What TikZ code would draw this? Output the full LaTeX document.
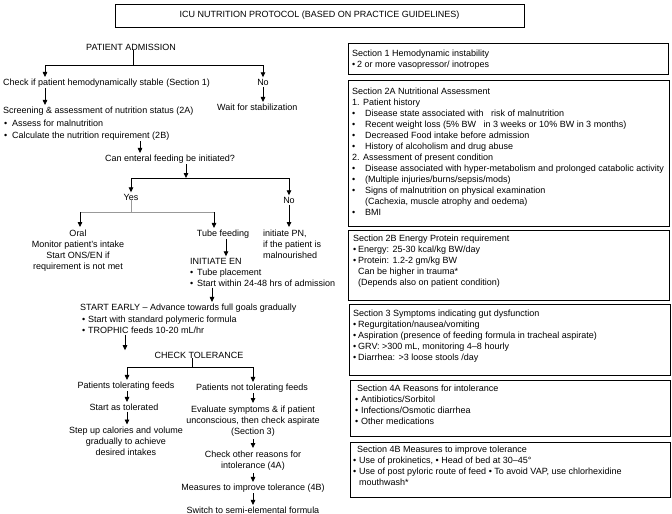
\documentclass[tikz,border=0pt]{standalone}
\usepackage{fontspec}
\setmainfont{Liberation Sans}
\usetikzlibrary{arrows.meta}
\newcommand{\mybul}[1]{\makebox[#1][l]{\textbullet}}
\tikzset{
  txt/.style={inner sep=0pt, font=\fontsize{9}{11}\selectfont},
  mtxt/.style={txt, align=center, anchor=north},
  rt/.style={txt, align=left, anchor=north west},
  arr/.style={-{Triangle[length=5pt,width=4.5pt]}, line width=0.8pt, shorten >=1.5pt, shorten <=1.2pt},
  ln/.style={line width=0.8pt},
  gry/.style={line width=0.9pt, draw=black!40},
  sbox/.style={draw, line width=1pt, inner sep=0pt, anchor=north west},
}
\begin{document}
\begin{tikzpicture}[x=1pt,y=-1pt]
\useasboundingbox (0,0) rectangle (672,514);
% title
\node[draw, line width=1pt, inner sep=0pt, minimum width=409pt, minimum height=23pt, font=\fontsize{9}{11}\selectfont] (title) at (319.5,15.5) {ICU NUTRITION PROTOCOL (BASED ON PRACTICE GUIDELINES)};

% ---------- left flowchart ----------
\node[txt, anchor=base] (adm) at (131,50.2) {PATIENT ADMISSION};
\coordinate (jA) at (133,65);
\coordinate (jAl) at (45,65);
\coordinate (jAr) at (263,65);
\node[txt, anchor=base west] (chk) at (3,85.2) {Check if patient hemodynamically stable (Section 1)};
\node[txt, anchor=base] (no1) at (263,85.2) {No};
\node[txt, anchor=base west] (scr) at (3,113.2) {Screening \& assessment of nutrition status (2A)};
\node[txt, anchor=base west] (wait) at (217,110.2) {Wait for stabilization};
\node[txt, anchor=base west] (b1) at (4,126.2) {\mybul{8pt}Assess for malnutrition};
\node[txt, anchor=base west] (b2) at (4,138.2) {\mybul{8pt}Calculate the nutrition requirement (2B)};
\node[txt, anchor=base] (can) at (170,161.2) {Can enteral feeding be initiated?};
\coordinate (xB) at (140,0);
\coordinate (xC) at (186,0);
\coordinate (jB) at (186,178);
\coordinate (jBl) at (131,178);
\coordinate (jBr) at (289,178);
\node[txt, anchor=base] (yes) at (131,200.2) {Yes};
\node[txt, anchor=base] (no2) at (289,203.2) {No};
\coordinate (jY) at (131,212);
\coordinate (jYl) at (80,212);
\coordinate (jYr) at (214,212);
\node[mtxt] (oral) at (78,228.5) {\strut Oral\\\strut Monitor patient's intake\\\strut Start ONS/EN if\\\strut requirement is not met};
\node[txt, anchor=base] (tube) at (223,236.2) {Tube feeding};
\node[rt] (pn) at (263,228.5) {\strut initiate PN,\\\strut if the patient is\\\strut malnourished};
\coordinate (xT) at (226,0);
\node[txt, anchor=base west] (inen) at (190,264.2) {INITIATE EN};
\node[txt, anchor=base west] (en1) at (190,275.2) {\mybul{7pt}Tube placement};
\node[txt, anchor=base west] (en2) at (190,286.2) {\mybul{7pt}Start within 24-48 hrs of admission};
\coordinate (xE) at (212,0);
\node[txt, anchor=base west] (early) at (80,310.2) {START EARLY -- Advance towards full goals gradually};
\node[txt, anchor=base west] (e1) at (82,322.2) {\mybul{6pt}Start with standard polymeric formula};
\node[txt, anchor=base west] (e2) at (82,333.2) {\mybul{6pt}TROPHIC feeds 10-20 mL/hr};
\coordinate (xF) at (125,0);
\node[txt, anchor=base] (ctol) at (199,358.2) {CHECK TOLERANCE};
\coordinate (jT) at (192,367);
\coordinate (jTl) at (127,367);
\coordinate (jTr) at (253,367);
\node[txt, anchor=base] (tol) at (126,388.2) {Patients tolerating feeds};
\node[txt, anchor=base] (ntol) at (252,390.2) {Patients not tolerating feeds};
\node[txt, anchor=base] (sat) at (124,410.2) {Start as tolerated};
\node[mtxt] (step) at (126,426) {\strut Step up calories and volume\\\strut gradually to achieve\\\strut desired intakes};
\node[mtxt] (eval) at (253,404.5) {\strut Evaluate symptoms \& if patient\\\strut unconscious, then check aspirate\\\strut (Section 3)};
\node[mtxt] (oth) at (253,449.5) {\strut Check other reasons for\\\strut intolerance (4A)};
\node[txt, anchor=base] (meas) at (253,490.2) {Measures to improve tolerance (4B)};
\node[txt, anchor=base] (sw) at (253,513.2) {Switch to semi-elemental formula};

% connectors
\draw[ln] (adm.south -| jA) -- (jA);
\draw[ln] (jAl) -- (jAr);
\draw[arr, shorten <=0pt] (jAl) -- (chk.north -| jAl);
\draw[arr, shorten <=0pt] (jAr) -- (no1.north);
\draw[arr] (chk.south -| jAl) -- (scr.north -| jAl);
\draw[arr] (no1.south) -- (wait.north -| jAr);
\draw[arr] (b2.south -| xB) -- (can.north -| xB);
\draw[arr, shorten >=0pt] (can.south -| xC) -- (jB);
\draw[ln] (jBl) -- (jBr);
\draw[arr, shorten <=0pt] (jBl) -- (yes.north);
\draw[arr, shorten <=0pt] (jBr) -- (no2.north);
\draw[gry] (yes.south) -- (jY);
\draw[gry] (jYl) -- (jYr);
\draw[arr, shorten <=0pt] (jYl) -- (oral.north -| jYl);
\draw[arr, shorten <=0pt] (jYr) -- (tube.north -| jYr);
\draw[arr] (no2.south) -- (pn.north -| no2);
\draw[arr] (tube.south -| xT) -- (inen.north -| xT);
\draw[arr] (en2.south -| xE) -- (early.north -| xE);
\draw[arr] (e2.south -| xF) -- (ctol.north -| xF);
\draw[ln] (ctol.south -| jT) -- (jT);
\draw[ln] (jTl) -- (jTr);
\draw[arr, shorten <=0pt] (jTl) -- (tol.north -| jTl);
\draw[arr, shorten <=0pt] (jTr) -- (ntol.north -| jTr);
\draw[arr] (tol.south -| jTl) -- (sat.north -| jTl);
\draw[arr] (sat.south -| jTl) -- (step.north -| jTl);
\draw[arr] (ntol.south -| jTr) -- (eval.north -| jTr);
\draw[arr] (eval.south -| jTr) -- (oth.north -| jTr);
\draw[arr] (oth.south -| jTr) -- (meas.north -| jTr);
\draw[arr] (meas.south -| jTr) -- (sw.north -| jTr);

% ---------- right column ----------
\node[sbox, minimum width=320pt, minimum height=31pt] (s1) at (348,43) {};
\node[rt] (s1t) at (352,48.5) {\strut Section 1 Hemodynamic instability\\
\strut\mybul{5pt}2 or more vasopressor/ inotropes};

\node[sbox, minimum width=321pt, minimum height=146pt] (s2a) at (348,80) {};
\node[rt] (s2at) at (352,86.5) {\strut Section 2A Nutritional Assessment\\
\strut 1. Patient history\\
\strut\mybul{13pt}Disease state associated with\hspace{5pt} risk of malnutrition\\
\strut\mybul{13pt}Recent weight loss (5\% BW\hspace{5pt} in 3 weeks or 10\% BW in 3 months)\\
\strut\mybul{13pt}Decreased Food intake before admission\\
\strut\mybul{13pt}History of alcoholism and drug abuse\\
\strut 2. Assessment of present condition\\
\strut\mybul{13pt}Disease associated with hyper-metabolism and prolonged catabolic activity\\
\strut\mybul{13pt}(Multiple injuries/burns/sepsis/mods)\\
\strut\mybul{13pt}Signs of malnutrition on physical examination\\
\strut\hspace{13pt}(Cachexia, muscle atrophy and oedema)\\
\strut\mybul{13pt}BMI};

\node[sbox, minimum width=321pt, minimum height=70pt] (s2b) at (348,230) {};
\node[rt] (s2bt) at (353,234) {\strut Section 2B Energy Protein requirement\\
\strut\mybul{5pt}Energy: 25-30 kcal/kg BW/day\\
\strut\mybul{5pt}Protein: 1.2-2 gm/kg BW\\
\strut\hspace{5pt}Can be higher in trauma*\\
\strut\hspace{5pt}(Depends also on patient condition)};

\node[sbox, minimum width=321pt, minimum height=71pt] (s3) at (349,304) {};
\node[rt] (s3t) at (353,308.5) {\strut Section 3 Symptoms indicating gut dysfunction\\
\strut\mybul{5pt}Regurgitation/nausea/vomiting\\
\strut\mybul{5pt}Aspiration (presence of feeding formula in tracheal aspirate)\\
\strut\mybul{5pt}GRV: >300 mL, monitoring 4--8 hourly\\
\strut\mybul{5pt}Diarrhea: >3 loose stools /day};

\node[sbox, minimum width=320pt, minimum height=56pt] (s4a) at (350,380) {};
\node[rt] (s4at) at (355,383.5) {\strut\hspace{2pt}Section 4A Reasons for intolerance\\
\strut\mybul{6pt}Antibiotics/Sorbitol\\
\strut\mybul{6pt}Infections/Osmotic diarrhea\\
\strut\mybul{6pt}Other medications};

\node[sbox, minimum width=320pt, minimum height=55pt] (s4b) at (350,442) {};
\node[rt] (s4bt) at (353,445) {\strut\hspace{4pt}Section 4B Measures to improve tolerance\\
\strut\mybul{6pt}Use of prokinetics, \textbullet\ Head of bed at 30--45°\\
\strut\mybul{6pt}Use of post pyloric route of feed \textbullet\ To avoid VAP, use chlorhexidine\\
\strut\hspace{6pt}mouthwash*};
\end{tikzpicture}
\end{document}
